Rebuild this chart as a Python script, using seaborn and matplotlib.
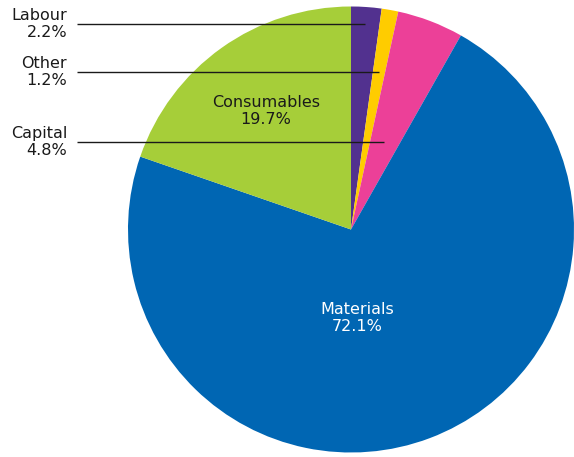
import numpy as np
import matplotlib
matplotlib.use("Agg")
import matplotlib.pyplot as plt
import seaborn as sns

# Cost breakdown (share of total, %)
categories = ["Labour", "Other", "Capital", "Materials", "Consumables"]
shares = [2.2, 1.2, 4.8, 72.1, 19.7]
colors = ["#52318F", "#FFCC00", "#EC4098", "#0066B3", "#A6CE39"]

sns.set_theme(style="white")
plt.rcParams["font.family"] = "sans-serif"
plt.rcParams["font.sans-serif"] = ["DejaVu Sans"]

W, H = 574, 457
fig = plt.figure(figsize=(W / 100, H / 100), dpi=100)
ax = fig.add_axes([0, 0, 1, 1])

cx, cy, r = 351, 229.5, 223

# Pie drawn clockwise from 12 o'clock; y axis is flipped, so counterclock=True
# renders clockwise on screen.
wedges, _ = ax.pie(shares, colors=colors, startangle=-90, counterclock=True,
                   center=(cx, cy), radius=r, frame=True,
                   wedgeprops=dict(linewidth=0))
ax.set_xlim(0, W)
ax.set_ylim(H, 0)
ax.set_aspect("equal")
ax.axis("off")

# Leader lines for the thin slices, labelled on the left
label_y = {"Labour": 24, "Other": 72, "Capital": 142}
fs = 11.5
txt = dict(fontsize=fs, family="DejaVu Sans", linespacing=1.2)
start = 90.0
for name, val in zip(categories, shares):
    mid = np.deg2rad(start - val * 3.6 / 2)
    start -= val * 3.6
    if name in label_y:
        y = label_y[name]
        x_end = cx + (cy - y) / np.tan(mid)
        ax.plot([77, x_end], [y, y], color="#1a1a1a", lw=1.0, solid_capstyle="butt")
        ax.text(67, y, f"{name}\n{val}%", ha="right", va="center",
                color="#1a1a1a", **txt)

ax.text(266, 111, f"Consumables\n{shares[4]}%", ha="center", va="center",
        color="#1a1a1a", **txt)
ax.text(357, 318, f"Materials\n{shares[3]}%", ha="center", va="center",
        color="white", **txt)

fig.savefig("out.png", dpi=100)
